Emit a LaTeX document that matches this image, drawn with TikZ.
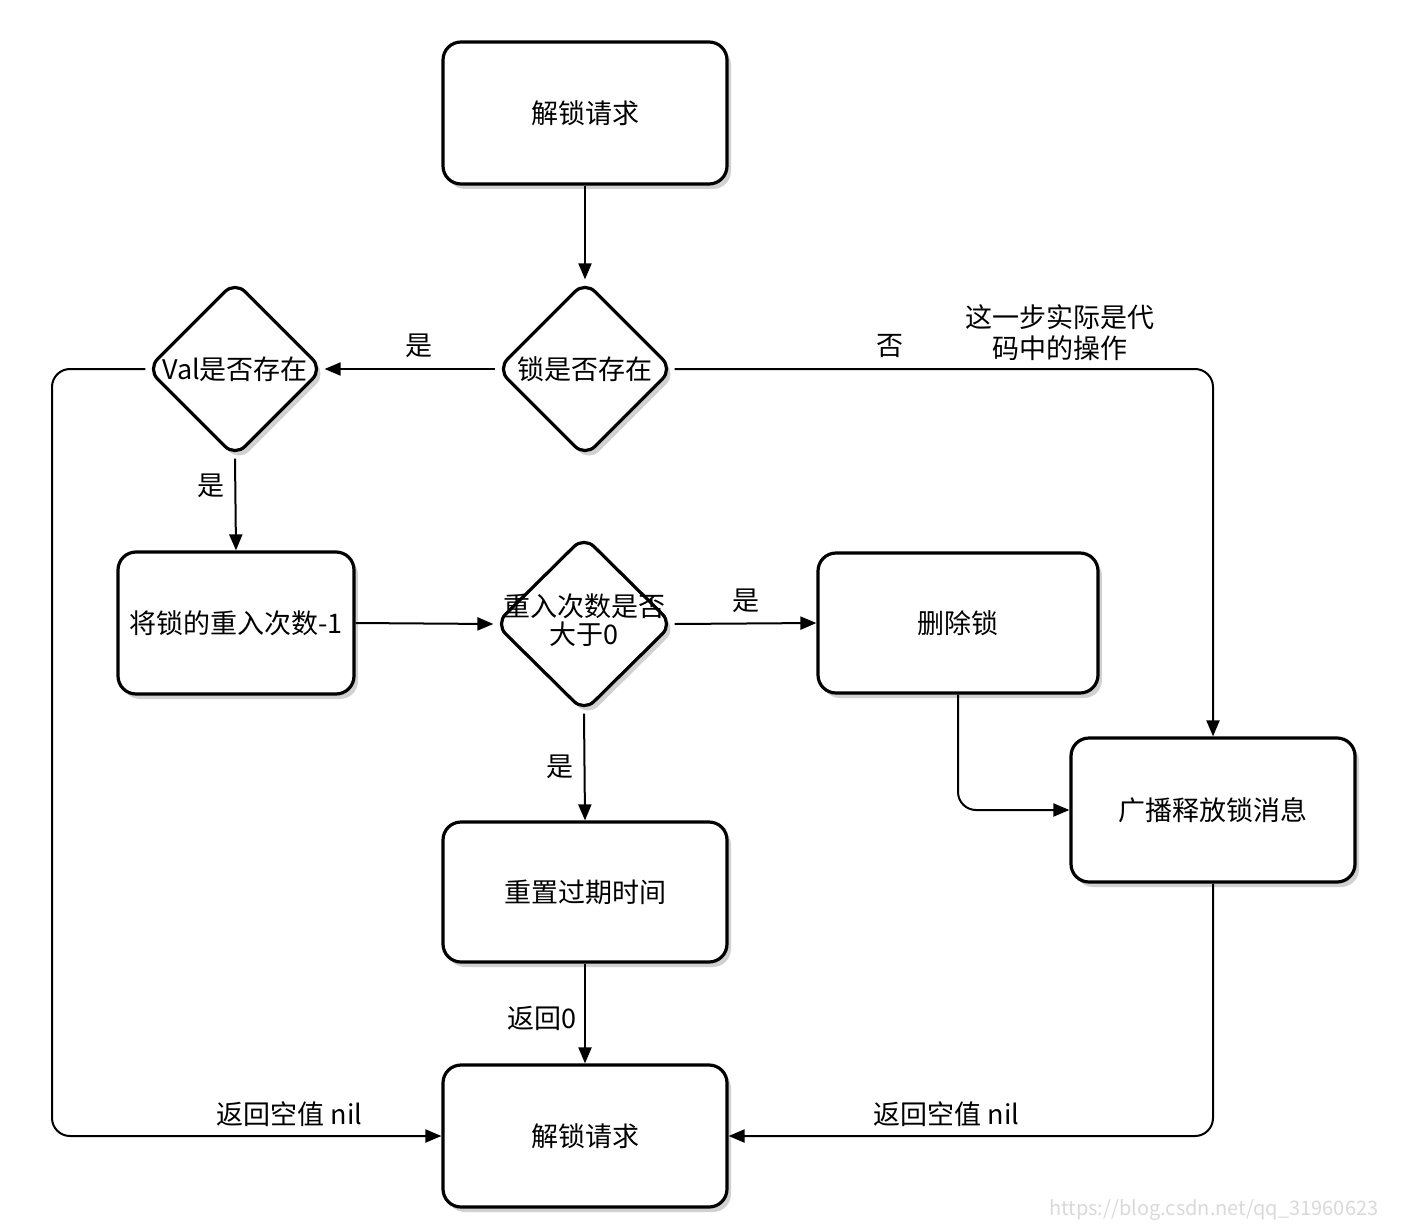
\documentclass[tikz,border=0pt]{standalone}
\usepackage{fontspec}
\setmainfont{Noto Sans CJK SC}
\usetikzlibrary{shapes.geometric,arrows.meta,shadows}

\tikzset{every picture/.style={line width=1pt}}
\tikzset{
  procbox/.style={draw, line width=1.6pt, rounded corners=9pt, fill=white,
    minimum width=142pt, minimum height=71pt, inner sep=0pt,
    drop shadow={shadow xshift=2pt, shadow yshift=-2.5pt, fill=black!30, opacity=0.6}},
  decision/.style={draw, diamond, aspect=1, line width=1.6pt, fill=white,
    minimum width=88pt, minimum height=88pt, inner sep=0pt, rounded corners=7pt,
    drop shadow={shadow xshift=2pt, shadow yshift=-2.5pt, fill=black!30, opacity=0.6}},
  flow/.style={-{Triangle[length=8pt,width=6.5pt]}, line width=1pt, rounded corners=9pt},
  edgelbl/.style={inner sep=1pt, fill=none}
}

\begin{document}
\begin{tikzpicture}[x=0.5pt,y=0.5pt,yscale=-1,xscale=1,
  every node/.style={font=\fontsize{13.5}{16}\selectfont}]
\useasboundingbox (0,0) rectangle (1406,1225);

%Shape: Rectangle [id:req]
\node [procbox] (req) at (585,113) {解锁请求};
%Shape: Diamond [id:lockq]
\node [decision, label=center:{锁是否存在}] (lockq) at (585,369) {};
%Shape: Diamond [id:valq]
\node [decision, label=center:{Val是否存在}] (valq) at (235,369) {};
%Shape: Rectangle [id:decr]
\node [procbox, minimum width=118pt] (decr) at (236,623) {将锁的重入次数-1};
%Shape: Diamond [id:cntq]
\node [decision, minimum width=89pt, label=center:{\begin{tabular}{@{}c@{}}重入次数是否\\[-2pt]大于0\end{tabular}}] (cntq) at (584,624) {};
%Shape: Rectangle [id:delbox]
\node [procbox, minimum width=140pt, minimum height=70pt] (delbox) at (958,623) {删除锁};
%Shape: Rectangle [id:bcast]
\node [procbox, minimum height=72pt] (bcast) at (1213,810) {广播释放锁消息};
%Shape: Rectangle [id:reset]
\node [procbox, minimum height=70pt] (reset) at (585,892) {重置过期时间};
%Shape: Rectangle [id:resp]
\node [procbox] (resp) at (585,1136) {解锁请求};

%Bend points
\coordinate (lbend) at (52,369);

%Connectors
\draw [flow] (req.south) -- (lockq.north);
\draw [flow] (lockq.west) -- (valq.east) node [edgelbl, pos=0.45, above=4pt] {是};
\draw [flow] (lockq.east) -| (bcast.north) node [edgelbl, pos=0.2, above=4pt] {否};
\draw [flow] (valq.west) -- (lbend) |- (resp.west) node [edgelbl, pos=0.805, above=3pt] {返回空值 nil};
\draw [flow] (valq.south) -- (decr.north) node [edgelbl, pos=0.3, left=4pt] {是};
\draw [flow] (decr.east) -- (cntq.west);
\draw [flow] (cntq.east) -- (delbox.west) node [edgelbl, pos=0.5, above=4pt] {是};
\draw [flow] (cntq.south) -- (reset.north) node [edgelbl, pos=0.5, left=4pt] {是};
\draw [flow] (delbox.south) |- (bcast.west);
\draw [flow] (reset.south) -- (resp.north) node [edgelbl, pos=0.55, left=3pt] {返回0};
\draw [flow] (bcast.south) |- (resp.east) node [edgelbl, pos=0.775, above=3pt] {返回空值 nil};

% Text Node
\node [align=center, font=\fontsize{13.5}{15.5}\selectfont] (note) at (1060,333) {这一步实际是代\\码中的操作};
% Text Node
\node [anchor=east, text=black!15, font=\fontsize{10}{12}\selectfont] (wmark) at (1386,1210) {https://blog.csdn.net/qq\_31960623};

\end{tikzpicture}
\end{document}
